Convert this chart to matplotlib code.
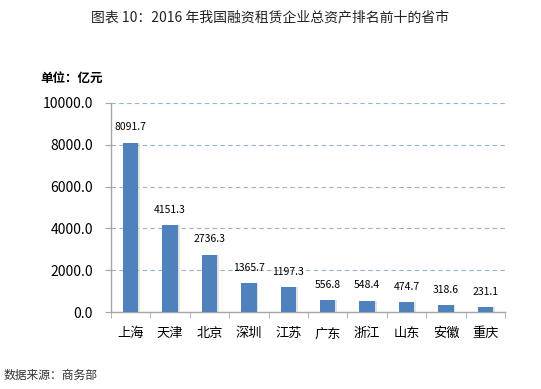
import matplotlib
matplotlib.use("Agg")
import matplotlib.pyplot as plt
from matplotlib.ticker import FormatStrFormatter

plt.rcParams['font.family'] = ['Noto Sans CJK SC', 'DejaVu Sans']

categories = ["上海", "天津", "北京", "深圳", "江苏", "广东", "浙江", "山东", "安徽", "重庆"]
values = [8091.7, 4151.3, 2736.3, 1365.7, 1197.3, 556.8, 548.4, 474.7, 318.6, 231.1]
yticks = [0, 2000, 4000, 6000, 8000, 10000]

fig = plt.figure(figsize=(5.41, 3.89), dpi=100)
ax = fig.add_axes([111/541, 1-312/389, (505-111)/541, (312-103)/389])

x = list(range(len(categories)))
# subtle shadow
ax.bar([i + 0.04 for i in x], values, width=0.40, color="#c8c8c8", alpha=0.5, zorder=2)
ax.bar(x, values, width=0.39, color="#4F81BD", zorder=3)

for i, v in zip(x, values):
    ax.text(i, v + 500, f"{v:.1f}", ha="center", va="bottom", fontsize=7.5, color="#000000")

ax.set_ylim(0, 10000)
ax.set_xlim(-0.5, len(categories) - 0.5)
ax.set_yticks(yticks)
ax.yaxis.set_major_formatter(FormatStrFormatter("%.1f"))
ax.tick_params(axis="y", labelsize=10, length=4, color="#a6a6a6", pad=9)
ax.grid(axis="y", linestyle=(0, (4, 3)), color="#95b3d7", linewidth=0.8, zorder=0)

ax.set_xticks(x)
ax.set_xticklabels(categories, fontsize=9.5)
ax.set_xticks([i - 0.5 for i in range(len(categories) + 1)], minor=True)
ax.tick_params(axis="x", which="major", length=0, pad=11)
ax.tick_params(axis="x", which="minor", length=4, color="#a6a6a6")

for s in ["top", "right"]:
    ax.spines[s].set_visible(False)
for s in ["left", "bottom"]:
    ax.spines[s].set_color("#a6a6a6")
    ax.spines[s].set_linewidth(1.0)

fig.text(270/541, 1-17/389, "图表 10：2016 年我国融资租赁企业总资产排名前十的省市",
         ha="center", va="center", fontsize=10, color="#222222")
fig.text(40/541, 1-78/389, "单位：亿元", ha="left", va="center", fontsize=9, fontweight="bold")
fig.text(4/541, 1-375/389, "数据来源：商务部", ha="left", va="center", fontsize=8.5, color="#333333")

fig.savefig("out.png", dpi=100)
